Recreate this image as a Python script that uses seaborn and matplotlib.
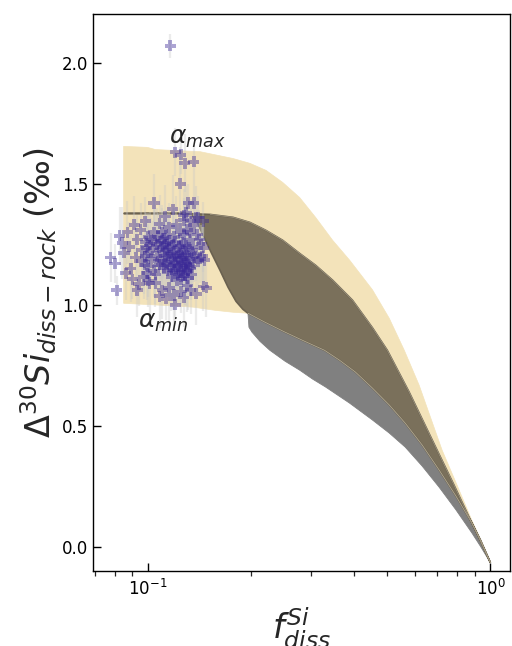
import numpy as np
import pandas as pd
import matplotlib
matplotlib.use("Agg")
import matplotlib.pyplot as plt
import seaborn as sns

# ---- model envelopes (f_diss, Delta30Si) ----
# upper edge of the alpha_max runs
f_max_top = [0.0848, 0.0995, 0.105, 0.142, 0.177, 0.1983, 0.221, 0.2473, 0.277, 0.3084,
             0.346, 0.3873, 0.452, 0.5062, 0.560, 0.6188, 0.722, 0.798, 0.882, 0.9371, 1.0]
d_max_top = [1.654, 1.650, 1.641, 1.632, 1.604, 1.584, 1.555, 1.505, 1.443, 1.361,
             1.266, 1.185, 1.062, 0.944, 0.812, 0.668, 0.400, 0.256, 0.110, 0.029, -0.066]
# lower edge of the alpha_min runs at low f_diss
f_min_low = [0.0848, 0.1088, 0.1354, 0.1569, 0.177, 0.1957]
d_min_low = [1.006, 0.998, 0.990, 0.977, 0.969, 0.965]
# top of the intermediate (dark) band
f_mid_top = [0.0848, 0.1283, 0.1518, 0.177, 0.1983, 0.221, 0.2473, 0.277, 0.3084, 0.346,
             0.3951, 0.452, 0.4995, 0.5787, 0.698, 0.7819, 0.865, 0.9371, 1.0]
d_mid_top = [1.377, 1.377, 1.373, 1.361, 1.340, 1.307, 1.266, 1.212, 1.163, 1.101,
             1.019, 0.905, 0.812, 0.639, 0.400, 0.256, 0.124, 0.021, -0.066]
# steep left edge of the intermediate band
f_mid_edge = [0.0848, 0.1283, 0.1345, 0.1391, 0.1448, 0.1528, 0.1622, 0.1712, 0.1806, 0.1892]
d_mid_edge = [1.377, 1.377, 1.369, 1.340, 1.287, 1.216, 1.142, 1.072, 1.014, 0.981]
# boundary between the intermediate band and the grey band
f_mid_bot = [0.1957, 0.2193, 0.251, 0.2866, 0.3275, 0.3622, 0.4031, 0.452, 0.5062, 0.5636,
             0.6313, 0.7075, 0.7926, 0.882, 0.9371, 1.0]
d_mid_bot = [0.965, 0.928, 0.887, 0.849, 0.812, 0.771, 0.722, 0.656, 0.586, 0.511,
             0.421, 0.318, 0.210, 0.099, 0.025, -0.066]
# bottom of the grey band
f_grey_bot = [0.1957, 0.1970, 0.201, 0.2121, 0.2267, 0.251, 0.277, 0.3022, 0.330, 0.3873,
              0.452, 0.5062, 0.5636, 0.6313, 0.7075, 0.7926, 0.882, 0.9371, 1.0]
d_grey_bot = [0.965, 0.907, 0.887, 0.849, 0.812, 0.767, 0.730, 0.693, 0.660, 0.594,
              0.524, 0.470, 0.412, 0.334, 0.247, 0.153, 0.058, 0.000, -0.066]

# ---- river water samples ----
f_obs = [
    0.116, 0.120, 0.1245, 0.128, 0.136, 0.124, 0.104, 0.131, 0.136, 0.118,
    0.140, 0.127, 0.112, 0.098, 0.108, 0.133, 0.145,
    0.0777, 0.0800, 0.0810, 0.0825, 0.0840, 0.0850, 0.0860, 0.0870, 0.0880, 0.0890,
    0.0900, 0.0910, 0.0920, 0.0930, 0.0940, 0.0950, 0.0960, 0.0975,
    0.0985, 0.1000, 0.1010, 0.1020, 0.1035, 0.1050, 0.1060, 0.1070, 0.1080, 0.1090,
    0.1100, 0.1110, 0.1120, 0.1135, 0.1150, 0.1000, 0.1040, 0.1095, 0.1130, 0.0990,
    0.1100, 0.1110, 0.1120, 0.1130, 0.1140, 0.1150, 0.1160, 0.1170, 0.1180, 0.1190,
    0.1200, 0.1205, 0.1210, 0.1220, 0.1225, 0.1230, 0.1240, 0.1245, 0.1250, 0.1260,
    0.1265, 0.1270, 0.1280, 0.1285, 0.1290, 0.1300, 0.1310, 0.1320, 0.1330, 0.1340,
    0.1350, 0.1360, 0.1180, 0.1200, 0.1230, 0.1260, 0.1290, 0.1320, 0.1350, 0.1380,
    0.1400, 0.1420, 0.1440, 0.1460, 0.1170, 0.1215, 0.1250, 0.1280, 0.1310, 0.1340,
    0.1150, 0.1190, 0.1240, 0.1270, 0.1300, 0.1330, 0.1360, 0.1390, 0.1410, 0.1430, 0.1450,
    0.0960, 0.0980, 0.1000, 0.1020, 0.1040, 0.1060, 0.1080, 0.1050, 0.0990, 0.1010,
    0.0970, 0.1070,
    0.1200, 0.1100, 0.1050, 0.1150, 0.1250, 0.1300, 0.1380, 0.1450, 0.1480, 0.1000,
    0.1190, 0.1130, 0.1270, 0.1330, 0.0930, 0.1080,
    0.1150, 0.1210, 0.1270, 0.1290, 0.1380,
    0.1115, 0.1145, 0.1175, 0.1195, 0.1215, 0.1235, 0.1255, 0.1275, 0.1295, 0.1315,
    0.1165, 0.1185, 0.1225, 0.1245, 0.1265, 0.1285, 0.1305, 0.1325, 0.1105, 0.1135,
]
d30_obs = [
    2.07, 1.63, 1.62, 1.585, 1.59, 1.50, 1.42, 1.42, 1.42, 1.395,
    1.36, 1.37, 1.365, 1.345, 1.335, 1.345, 1.345,
    1.195, 1.17, 1.06, 1.285, 1.255, 1.215, 1.13, 1.30, 1.24, 1.15,
    1.105, 1.33, 1.195, 1.27, 1.085, 1.31, 1.225, 1.165,
    1.26, 1.28, 1.245, 1.27, 1.235, 1.265, 1.25, 1.28, 1.225, 1.26,
    1.24, 1.275, 1.255, 1.23, 1.265, 1.215, 1.30, 1.30, 1.29, 1.235,
    1.18, 1.15, 1.20, 1.17, 1.14, 1.21, 1.16, 1.19, 1.13, 1.22,
    1.175, 1.145, 1.20, 1.16, 1.125, 1.185, 1.215, 1.15, 1.17, 1.195,
    1.135, 1.16, 1.225, 1.18, 1.145, 1.205, 1.165, 1.19, 1.15, 1.215,
    1.175, 1.195, 1.245, 1.26, 1.24, 1.255, 1.245, 1.27, 1.24, 1.21,
    1.18, 1.19, 1.20, 1.185, 1.115, 1.10, 1.105, 1.12, 1.11, 1.125,
    1.235, 1.28, 1.30, 1.29, 1.31, 1.30, 1.33, 1.29, 1.27, 1.25, 1.235,
    1.18, 1.20, 1.16, 1.19, 1.14, 1.20, 1.165, 1.125, 1.13, 1.09,
    1.115, 1.18,
    1.00, 1.06, 1.09, 1.07, 1.055, 1.08, 1.045, 1.075, 1.07, 1.10,
    1.04, 1.025, 1.03, 1.06, 1.06, 1.035,
    1.32, 1.33, 1.35, 1.38, 1.36,
    1.165, 1.195, 1.145, 1.175, 1.215, 1.135, 1.195, 1.205, 1.17, 1.235,
    1.205, 1.165, 1.195, 1.245, 1.12, 1.165, 1.14, 1.155, 1.22, 1.25,
]
d30_sd = [
    0.05, 0.10, 0.08, 0.12, 0.07, 0.15, 0.12, 0.08, 0.10, 0.14,
    0.09, 0.11, 0.13, 0.10, 0.12, 0.09, 0.08,
    0.10, 0.08, 0.06, 0.12, 0.15, 0.09, 0.11, 0.13, 0.10, 0.14,
    0.08, 0.12, 0.16, 0.10, 0.09, 0.11, 0.13, 0.12,
    0.12, 0.10, 0.14, 0.09, 0.11, 0.13, 0.15, 0.10, 0.12, 0.08,
    0.16, 0.11, 0.09, 0.13, 0.10, 0.12, 0.14, 0.11, 0.10, 0.13,
    0.10, 0.12, 0.08, 0.14, 0.11, 0.09, 0.13, 0.10, 0.15, 0.12,
    0.09, 0.11, 0.13, 0.10, 0.12, 0.08, 0.14, 0.11, 0.09, 0.12,
    0.10, 0.13, 0.11, 0.09, 0.15, 0.12, 0.10, 0.08, 0.13, 0.11,
    0.12, 0.10, 0.14, 0.09, 0.11, 0.13, 0.10, 0.12, 0.08, 0.11,
    0.13, 0.10, 0.12, 0.09, 0.14, 0.11, 0.10, 0.12, 0.13, 0.09,
    0.11, 0.12, 0.10, 0.14, 0.09, 0.13, 0.11, 0.10, 0.12, 0.08, 0.10,
    0.12, 0.10, 0.13, 0.09, 0.11, 0.14, 0.10, 0.12, 0.11, 0.13,
    0.09, 0.12,
    0.08, 0.12, 0.10, 0.14, 0.09, 0.11, 0.13, 0.10, 0.12, 0.11,
    0.15, 0.09, 0.12, 0.10, 0.11, 0.13,
    0.10, 0.12, 0.09, 0.11, 0.13,
    0.11, 0.09, 0.13, 0.10, 0.12, 0.14, 0.10, 0.11, 0.09, 0.12,
    0.13, 0.10, 0.12, 0.11, 0.09, 0.14, 0.10, 0.12, 0.11, 0.13,
]

x_ticks = [0.1, 1.0]
x_ticklabels = [r"$10^{-1}$", r"$10^{0}$"]
y_ticks = [0.0, 0.5, 1.0, 1.5, 2.0]

sns.set_style("ticks")
plt.rcParams["font.family"] = ["DejaVu Sans"]

fig = plt.figure(figsize=(5.12, 6.46), dpi=100)
ax = fig.add_axes([0.1816, 0.116, 0.8144, 0.862])
ax.set_xscale("log")

c_yellow = "#f3e3ba"
c_dark = "#7a705b"
c_grey = "#808080"

# alpha_max / alpha_min envelope
ax.fill(f_max_top + f_mid_bot[::-1] + f_min_low[::-1],
        d_max_top + d_mid_bot[::-1] + d_min_low[::-1],
        facecolor=c_yellow, edgecolor=c_yellow, lw=0.5, zorder=1)
# grey band under the intermediate runs
ax.fill(f_mid_bot + f_grey_bot[::-1], d_mid_bot + d_grey_bot[::-1],
        facecolor=c_grey, edgecolor=c_grey, lw=0.6, zorder=2)
# intermediate alpha runs
edge_f = f_mid_edge + f_mid_bot
edge_d = d_mid_edge + d_mid_bot
ax.fill(f_mid_top + edge_f[::-1], d_mid_top + edge_d[::-1],
        facecolor=c_dark, edgecolor="#6a6150", lw=1.2, zorder=3)
ax.plot(f_mid_bot, d_mid_bot, color="#b3aa92", lw=0.6, zorder=3.5)
ax.plot(f_mid_top[2:], d_mid_top[2:], color="#a49b84", lw=0.5, zorder=3.5)

# samples with analytical uncertainty
ax.errorbar(f_obs, d30_obs, yerr=d30_sd, fmt="none", ecolor="#c8c8c8",
            elinewidth=1.6, alpha=0.35, zorder=4)
df = pd.DataFrame({"f_diss": f_obs, "d30": d30_obs})
sns.scatterplot(data=df, x="f_diss", y="d30", ax=ax, marker="P", s=65,
                color="#3a2896", alpha=0.42, edgecolor="none", linewidth=0,
                zorder=5, legend=False)

ax.text(0.139, 1.687, r"$\alpha_{max}$", fontsize=18, ha="center", va="center", zorder=6)
ax.text(0.1108, 0.928, r"$\alpha_{min}$", fontsize=18, ha="center", va="center", zorder=6)

ax.set_xlim(0.069, 1.14)
ax.set_ylim(-0.1, 2.2)
ax.set_xticks(x_ticks)
ax.set_xticklabels(x_ticklabels)
ax.set_yticks(y_ticks)
ax.set_yticklabels([f"{t:.1f}" for t in y_ticks])
ax.tick_params(axis="both", which="major", direction="in", length=6, width=1,
               labelsize=12, colors="black")
ax.tick_params(axis="x", which="minor", direction="out", length=3.5, width=0.9)
ax.tick_params(axis="x", which="major", pad=6)
for s in ax.spines.values():
    s.set_color("black")
    s.set_linewidth(1.0)

ax.set_xlabel(r"$f^{Si}_{diss}$", fontsize=24, labelpad=4)
ax.set_ylabel(r"$\Delta^{30}Si_{diss-rock}$ (‰)", fontsize=24, labelpad=2)

fig.savefig("out.png", dpi=100)
